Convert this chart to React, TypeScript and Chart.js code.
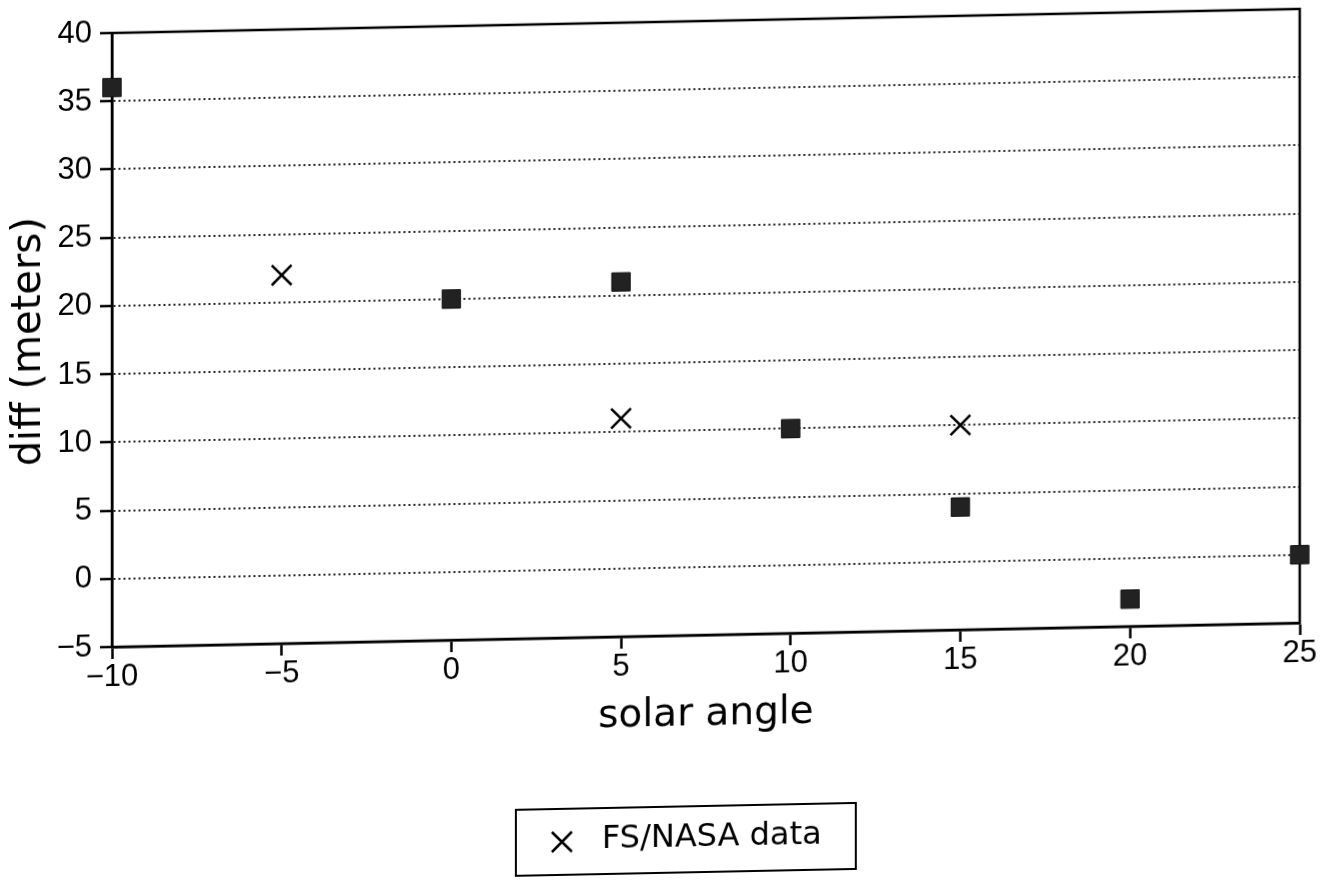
import React, { useEffect, useRef } from 'react';
import { Chart, registerables } from 'chart.js';

Chart.register(...registerables);

// ---- data ----
const squareAngles = [-10, 0, 5, 10, 15, 20, 25];
const squareDiffs = [36, 20, 21, 10, 4, -3, 0];

const nasaAngles = [-5, 5, 15];
const nasaDiffs = [22, 11, 10];

const xTickValues = [-10, -5, 0, 5, 10, 15, 20, 25];
const yTickValues = [-5, 0, 5, 10, 15, 20, 25, 30, 35, 40];

const xTitle = 'solar angle';
const yTitle = 'diff (meters)';
const nasaLabel = 'FS/NASA data';
const squareLabel = 'model data';

const fmt = (v: number | string) => String(v).replace('-', '\u2212');

const framePlugin = {
  id: 'frame',
  beforeDatasetsDraw(chart: any) {
    const { ctx, chartArea } = chart;
    const { left, top, right, bottom } = chartArea;
    ctx.save();
    ctx.setLineDash([]);
    ctx.strokeStyle = '#000';
    ctx.lineWidth = 2.5;
    ctx.strokeRect(left, top, right - left, bottom - top);
    ctx.restore();
  },
};

const boxLegendPlugin = {
  id: 'boxLegend',
  afterDraw(chart: any) {
    const { ctx } = chart;
    const ds = chart.data.datasets[1];
    const bx = 516, by = 818, bw = 340, bh = 66;
    ctx.save();
    ctx.setLineDash([]);
    ctx.strokeStyle = '#000';
    ctx.lineWidth = 2;
    ctx.strokeRect(bx, by, bw, bh);
    const cx = 562, cy = 851, d = 10;
    ctx.beginPath();
    ctx.moveTo(cx - d, cy - d);
    ctx.lineTo(cx + d, cy + d);
    ctx.moveTo(cx + d, cy - d);
    ctx.lineTo(cx - d, cy + d);
    ctx.lineWidth = 2.5;
    ctx.stroke();
    ctx.fillStyle = '#000';
    ctx.font = '32px "DejaVu Sans"';
    ctx.textBaseline = 'middle';
    ctx.textAlign = 'left';
    ctx.fillText(ds.label, 602, 850);
    ctx.restore();
  },
};

export default function App() {
  const ref = useRef<HTMLCanvasElement>(null);

  useEffect(() => {
    const canvas = ref.current!;
    const chart = new Chart(canvas, {
      type: 'scatter',
      data: {
        datasets: [
          {
            label: squareLabel,
            data: squareAngles.map((x, i) => ({ x, y: squareDiffs[i] })),
            pointStyle: 'rect',
            pointRadius: 13,
            pointHoverRadius: 13,
            backgroundColor: '#222',
            borderColor: '#111',
            borderWidth: 1,
            clip: false,
          },
          {
            label: nasaLabel,
            data: nasaAngles.map((x, i) => ({ x, y: nasaDiffs[i] })),
            pointStyle: 'crossRot',
            pointRadius: 14,
            pointHoverRadius: 14,
            borderColor: '#000',
            backgroundColor: '#000',
            borderWidth: 2.5,
            clip: false,
          },
        ],
      },
      options: {
        responsive: false,
        maintainAspectRatio: false,
        animation: false,
        events: [],
        layout: { padding: { left: 0, right: 20, top: 33, bottom: 136 } },
        plugins: {
          legend: { display: false },
          tooltip: { enabled: false },
        },
        scales: {
          x: {
            type: 'linear',
            min: -10,
            max: 25,
            afterBuildTicks: (s: any) => {
              s.ticks = xTickValues.map((v) => ({ value: v }));
            },
            afterFit: (s: any) => {
              s.height = 103;
            },
            grid: {
              drawOnChartArea: false,
              drawTicks: true,
              tickLength: 12,
              tickColor: '#000',
              tickWidth: 2.5,
              tickBorderDash: [],
            },
            border: { display: true, color: '#000', width: 2.5 },
            ticks: {
              color: '#000',
              font: { family: '"Liberation Sans", Arial, sans-serif', size: 31 },
              padding: 0,
              maxRotation: 0,
              autoSkip: false,
              callback: (v: any) => fmt(v),
            },
            title: {
              display: true,
              text: xTitle,
              color: '#000',
              font: { family: '"DejaVu Sans", sans-serif', size: 39 },
              padding: { top: 0, bottom: 0 },
            },
          },
          y: {
            type: 'linear',
            min: -5,
            max: 40,
            afterBuildTicks: (s: any) => {
              s.ticks = yTickValues.map((v) => ({ value: v }));
            },
            afterFit: (s: any) => {
              s.width = 112;
            },
            grid: {
              color: '#222',
              lineWidth: 2,
              drawTicks: true,
              tickLength: 12,
              tickColor: '#000',
              tickWidth: 2.5,
              tickBorderDash: [],
            },
            border: { display: true, color: '#000', width: 2.5, dash: [2, 3] },
            ticks: {
              color: '#000',
              font: { family: '"Liberation Sans", Arial, sans-serif', size: 31 },
              padding: 8,
              autoSkip: false,
              callback: (v: any) => fmt(v),
            },
            title: {
              display: true,
              text: yTitle,
              color: '#000',
              font: { family: '"DejaVu Sans", sans-serif', size: 40 },
              padding: { top: 6, bottom: 0 },
            },
          },
        },
      } as any,
      plugins: [framePlugin, boxLegendPlugin],
    });
    return () => chart.destroy();
  }, []);

  return (
    <div
      style={{
        position: 'absolute',
        left: 0,
        top: 0,
        width: 1320,
        height: 886,
        overflow: 'hidden',
        background: '#fff',
      }}
    >
      <canvas
        ref={ref}
        width={1320}
        height={886}
        style={{
          display: 'block',
          width: 1320,
          height: 886,
          transform: 'skewY(-1.16deg)',
          transformOrigin: '112px 0px',
        }}
      />
    </div>
  );
}
